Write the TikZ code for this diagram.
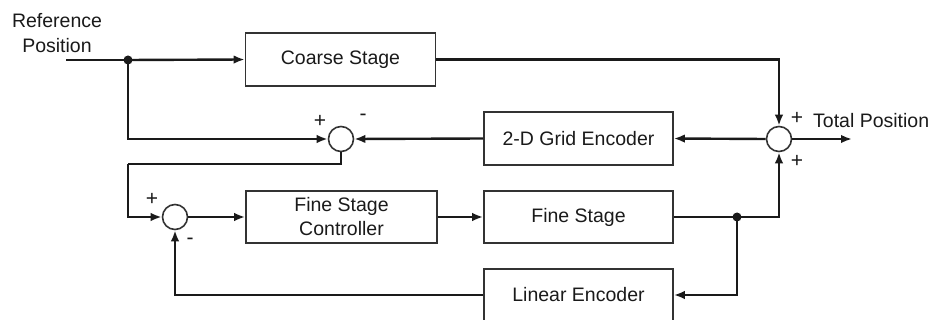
\documentclass[tikz,border=0pt]{standalone}
\usepackage{fontspec}
\setmainfont{Liberation Sans}
\usetikzlibrary{arrows.meta}
\definecolor{ink}{HTML}{1A1A1A}
\definecolor{boxline}{HTML}{333333}
\tikzset{
  blk/.style={draw=boxline, line width=1.6pt, rectangle, minimum width=189pt, minimum height=53pt, inner sep=0pt, align=center, text=ink, font=\fontsize{19.5}{24}\selectfont},
  sumc/.style={draw=boxline, line width=1.6pt, circle, minimum size=25pt, inner sep=0pt},
  wire/.style={draw=ink, line width=2.4pt},
  arr/.style={wire, -{Latex[length=11pt,width=8.5pt]}},
  sign/.style={text=ink, font=\fontsize{21}{21}\selectfont, inner sep=0pt},
  lbl/.style={text=ink, font=\fontsize{19.5}{25}\selectfont, inner sep=0pt, align=center},
  dot/.style={fill=ink, circle, minimum size=9pt, inner sep=0pt}
}
\begin{document}
\begin{tikzpicture}[x=1pt,y=-1pt]
\useasboundingbox (0,0) rectangle (936,320);
% blocks
\node[blk, minimum width=190pt] (coarse) at (340.5,59.5) {Coarse Stage};
\node[blk] (grid) at (578.5,138.5) {2-D Grid Encoder};
\node[blk, minimum width=191pt, minimum height=52pt] (fsc) at (341.5,217) {Fine Stage\\Controller};
\node[blk, minimum height=52pt] (fs) at (578.5,217) {Fine Stage};
\node[blk, minimum height=52pt] (lin) at (578.5,295) {Linear Encoder};
% summing junctions
\node[sumc] (s1) at (341,139) {};
\node[sumc] (s2) at (175,217) {};
\node[sumc] (s3) at (779,139) {};
% labels
\node[lbl] (ref) at (57,33) {Reference\\Position};
\node[lbl, anchor=west] (tot) at (813,121) {Total Position};
\node[sign] (p1) at (320,121) {+};
\node[sign] (m1) at (363,117) {-};
\node[sign] (p2) at (152,199) {+};
\node[sign] (m2) at (190,241) {-};
\node[sign] (p3) at (797,118) {+};
\node[sign] (p4) at (797,161) {+};
% helper points
\coordinate (in) at (66,60);
\node[dot] (j1) at (128,60) {};
\node[dot] (j2) at (737,217) {};
\coordinate (c1) at (128,164);
\coordinate (out) at (852,139);
% connectors
\draw[wire] (in) -- (j1.center);
\draw[arr] (j1.center) -- (coarse.west);
\draw[arr] (coarse.east) -| (s3.north);
\draw[arr] (j1.center) |- (s1.west);
\draw[arr] (grid.west) -- (s1.east);
\draw[arr] (s3.west) -- (grid.east);
\draw[arr] (s3.east) -- (out);
\draw[wire] (s1.south) |- (c1);
\draw[arr] (c1) |- (s2.west);
\draw[arr] (s2.east) -- (fsc.west);
\draw[arr] (fsc.east) -- (fs.west);
\draw[wire] (fs.east) -- (j2.center);
\draw[arr] (j2.center) -| (s3.south);
\draw[arr] (j2.center) |- (lin.east);
\draw[arr] (lin.west) -| (s2.south);
\end{tikzpicture}
\end{document}
